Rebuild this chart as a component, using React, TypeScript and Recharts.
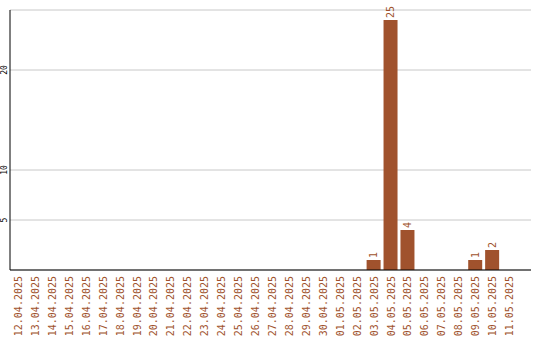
import React from "react";
import { BarChart, Bar, XAxis, YAxis, CartesianGrid, LabelList } from "recharts";

const dates = [
  "12.04.2025", "13.04.2025", "14.04.2025", "15.04.2025", "16.04.2025",
  "17.04.2025", "18.04.2025", "19.04.2025", "20.04.2025", "21.04.2025",
  "22.04.2025", "23.04.2025", "24.04.2025", "25.04.2025", "26.04.2025",
  "27.04.2025", "28.04.2025", "29.04.2025", "30.04.2025", "01.05.2025",
  "02.05.2025", "03.05.2025", "04.05.2025", "05.05.2025", "06.05.2025",
  "07.05.2025", "08.05.2025", "09.05.2025", "10.05.2025", "11.05.2025",
];
const counts = [
  0, 0, 0, 0, 0, 0, 0, 0, 0, 0,
  0, 0, 0, 0, 0, 0, 0, 0, 0, 0,
  0, 1, 25, 4, 0, 0, 0, 1, 2, 0,
];
const yTicks = [5, 10, 20];

const BROWN = "#a0522d";
const MONO = "'DejaVu Sans Mono', 'Liberation Mono', monospace";

const data = dates.map((d, i) => ({ date: d, count: counts[i] }));

// x tick: date written bottom-to-top, ending just under the axis line
const XTick = (props: any) => {
  const { x, payload } = props;
  return (
    <text
      transform={`translate(${x},276) rotate(-90)`}
      textAnchor="end"
      dy="0.35em"
      fill={BROWN}
      fontSize={10}
      fontFamily={MONO}
    >
      {payload.value}
    </text>
  );
};

const YTick = (props: any) => {
  const { y, payload } = props;
  return (
    <text
      transform={`translate(4,${y}) rotate(-90)`}
      textAnchor="middle"
      dy="0.35em"
      fill="#000"
      fontSize={8}
      fontFamily={MONO}
    >
      {payload.value}
    </text>
  );
};

const ValueLabel = (props: any) => {
  const { x, y, width, value } = props;
  if (!value) return null;
  return (
    <text
      transform={`translate(${x + width / 2},${y - 2}) rotate(-90)`}
      textAnchor="start"
      dy="0.35em"
      fill={BROWN}
      fontSize={10}
      fontFamily={MONO}
    >
      {value}
    </text>
  );
};

export default function App() {
  return (
    <div style={{ position: "absolute", left: 0, top: 0, background: "#fff" }}>
      <BarChart
        width={540}
        height={340}
        data={data}
        margin={{ top: 10, right: 9, bottom: 0, left: 0 }}
        barSize={14}
      >
        <CartesianGrid horizontal vertical={false} stroke="#c8c8c8" />
        <XAxis
          dataKey="date"
          interval={0}
          height={70}
          tickLine={false}
          axisLine={{ stroke: "#000", strokeWidth: 1 }}
          tick={<XTick />}
          padding={{ left: 0, right: 13 }}
        />
        <YAxis
          width={10}
          domain={[0, 26]}
          ticks={yTicks}
          tickLine={false}
          axisLine={{ stroke: "#000", strokeWidth: 1 }}
          tick={<YTick />}
        />
        <Bar dataKey="count" fill={BROWN} isAnimationActive={false}>
          <LabelList dataKey="count" content={<ValueLabel />} />
        </Bar>
      </BarChart>
    </div>
  );
}
